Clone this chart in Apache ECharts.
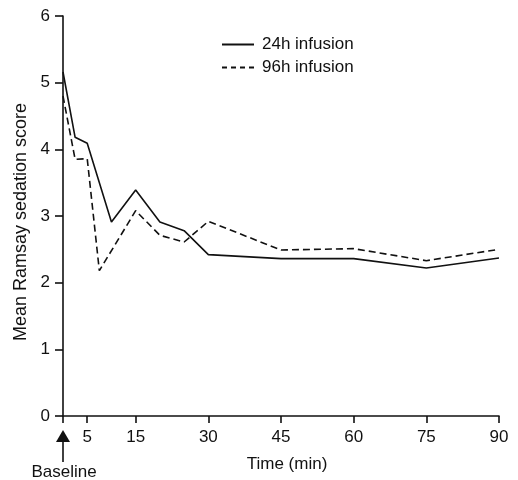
<!DOCTYPE html>
<html>
<head>
<meta charset="utf-8">
<script src="https://cdn.jsdelivr.net/npm/echarts@6/dist/echarts.min.js"></script>
<style>
  html, body { margin: 0; padding: 0; background: #fff; }
  #chart { width: 518px; height: 480px; }
</style>
</head>
<body>
<div id="chart"></div>
<script>
// time points (min) and mean scores
const time24 = [0, 2.5, 5, 10, 15, 20, 25, 30, 45, 60, 75, 90];
const score24 = [5.16, 4.18, 4.09, 2.91, 3.39, 2.91, 2.78, 2.42, 2.36, 2.36, 2.22, 2.37];
const time96 = [0, 2.5, 5, 7.5, 15, 20, 25, 30, 45, 60, 75, 90];
const score96 = [4.8, 3.85, 3.86, 2.18, 3.08, 2.71, 2.61, 2.92, 2.49, 2.51, 2.33, 2.5];
const xTicks = [0, 5, 15, 30, 45, 60, 75, 90];
const xLabels = [5, 15, 30, 45, 60, 75, 90];

const font = 'Liberation Sans';
const ink = '#111';

let chart = echarts.init(document.getElementById('chart'));

let option = {
  animation: false,
  textStyle: { fontFamily: font, color: ink },
  grid: { left: 63, right: 19, top: 16, bottom: 64 },
  legend: {
    orient: 'vertical',
    left: 216,
    top: 31,
    itemWidth: 32,
    itemHeight: 14,
    itemGap: 6,
    itemStyle: { opacity: 0 },
    textStyle: { fontFamily: font, fontSize: 17, color: ink, padding: [0, 0, 0, 3] },
    data: [
      { name: '24h infusion' },
      { name: '96h infusion', lineStyle: { type: [5, 4] } }
    ]
  },
  xAxis: {
    type: 'value',
    min: 0,
    max: 90,
    name: 'Time (min)',
    nameLocation: 'middle',
    nameGap: 40,
    nameTextStyle: { fontSize: 17, color: ink, padding: [0, 0, 0, 12] },
    axisLine: { lineStyle: { color: ink, width: 1.6 } },
    axisTick: { customValues: xTicks, length: 7, lineStyle: { color: ink, width: 1.6 } },
    axisLabel: { customValues: xLabels, fontSize: 17, color: ink, margin: 13 },
    splitLine: { show: false }
  },
  yAxis: {
    type: 'value',
    min: 0,
    max: 6,
    interval: 1,
    name: 'Mean Ramsay sedation score',
    nameLocation: 'middle',
    nameGap: 33,
    nameTextStyle: { fontSize: 18, color: ink, padding: [0, 12, 0, 0] },
    axisLine: { show: true, lineStyle: { color: ink, width: 1.6 } },
    axisTick: { show: true, length: 8, lineStyle: { color: ink, width: 1.6 } },
    axisLabel: { fontSize: 17, color: ink, margin: 13 },
    splitLine: { show: false }
  },
  series: [
    {
      name: '24h infusion',
      type: 'line',
      symbol: 'none',
      lineStyle: { color: ink, width: 1.6 },
      itemStyle: { color: ink },
      data: time24.map((t, i) => [t, score24[i]])
    },
    {
      name: '96h infusion',
      type: 'line',
      symbol: 'none',
      lineStyle: { color: ink, width: 1.6, type: [7, 4] },
      itemStyle: { color: ink },
      data: time96.map((t, i) => [t, score96[i]])
    }
  ]
};

chart.setOption(option);

// baseline arrow under t = 0
let bx = chart.convertToPixel({ xAxisIndex: 0 }, 0);
let by = chart.convertToPixel({ yAxisIndex: 0 }, 0);
chart.setOption({
  graphic: [
    {
      type: 'polygon',
      shape: { points: [[bx, by + 14], [bx - 7, by + 26], [bx + 7, by + 26]] },
      style: { fill: ink }
    },
    {
      type: 'line',
      shape: { x1: bx, y1: by + 25, x2: bx, y2: by + 46 },
      style: { stroke: ink, lineWidth: 1.6 }
    },
    {
      type: 'text',
      x: bx + 1,
      y: by + 56,
      style: {
        text: 'Baseline',
        font: '17px "Liberation Sans"',
        fill: ink,
        align: 'center',
        verticalAlign: 'middle'
      }
    }
  ]
});
</script>
</body>
</html>
